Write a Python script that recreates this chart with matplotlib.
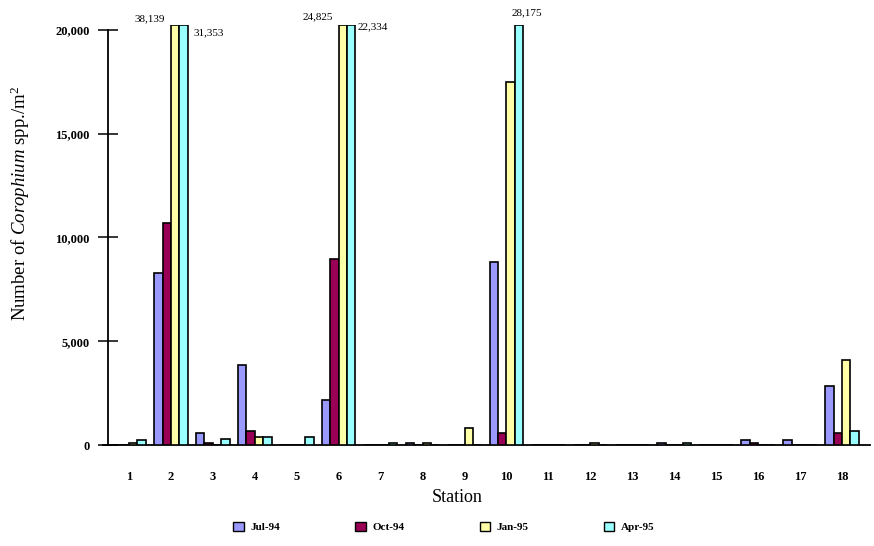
import numpy as np
import matplotlib
matplotlib.use("Agg")
import matplotlib.pyplot as plt
from matplotlib.patches import Patch

plt.rcParams['font.family'] = ['Liberation Serif', 'DejaVu Serif']
plt.rcParams['mathtext.fontset'] = 'custom'
plt.rcParams['mathtext.rm'] = 'Liberation Serif'
plt.rcParams['mathtext.it'] = 'Liberation Serif:italic'

# ---- data ----
stations = list(range(1, 19))
station_labels = [str(s) for s in stations]
series_names = ["Jul-94", "Oct-94", "Jan-95", "Apr-95"]
jul94 = [0, 8300, 560, 3840, 0, 2150, 0, 100, 0, 8800, 0, 0, 0, 100, 0, 240, 240, 2830]
oct94 = [0, 10700, 100, 660, 0, 8950, 0, 0, 0, 580, 0, 0, 0, 0, 0, 100, 0, 580]
jan95 = [80, 38139, 0, 370, 0, 24825, 0, 100, 820, 17480, 0, 100, 0, 0, 0, 0, 0, 4080]
apr95 = [220, 31353, 275, 370, 370, 22334, 80, 0, 0, 28175, 0, 0, 0, 100, 0, 0, 0, 660]
y_ticks = [0, 5000, 10000, 15000, 20000]
y_tick_labels = ["0", "5,000", "10,000", "15,000", "20,000"]
axis_cap = 20250

series = [jul94, oct94, jan95, apr95]
colors = ["#9999FF", "#990055", "#FFFFA8", "#99FFFF"]

W, H = 874, 546
fig = plt.figure(figsize=(W / 100, H / 100), dpi=100)

# axes placement in pixels
ax_left, ax_right, ax_bottom, ax_top = 103, 870, 445, 24.8
ax = fig.add_axes([ax_left / W, 1 - ax_bottom / H, (ax_right - ax_left) / W, (ax_bottom - ax_top) / H])

x = np.array(stations, dtype=float)
bw = 0.2
offsets = np.array([-1.5, -0.5, 0.5, 1.5]) * bw
for vals, col, name, off in zip(series, colors, series_names, offsets):
    v = np.minimum(np.array(vals, dtype=float), axis_cap)
    ax.bar(x + off, v, width=bw, color=col, edgecolor="black", linewidth=1.2, label=name, zorder=3)

# value labels for clipped bars
label_fs = 8
def lab(station_idx, s_idx, ha, dx, dy):
    val = series[s_idx][station_idx]
    xb = x[station_idx] + offsets[s_idx]
    ax.annotate(f"{val:,}", xy=(xb, axis_cap), xytext=(dx, dy), textcoords="offset pixels",
                ha=ha, va="center", fontsize=label_fs, annotation_clip=False)

lab(1, 2, "right", -10, 6)
lab(1, 3, "left", 10, -8)
lab(5, 2, "right", -10, 8)
lab(5, 3, "left", 6, -2)
lab(9, 3, "center", 8, 12)

ax.set_xlim(0.5 - 5 / 41.94, 18.5 + 7 / 41.94)
ax.set_ylim(0, axis_cap)
ax.spines['left'].set_position(('data', 0.5))
ax.spines['left'].set_bounds(0, 20000)
ax.spines['top'].set_visible(False)
ax.spines['right'].set_visible(False)
for s in ('left', 'bottom'):
    ax.spines[s].set_linewidth(1.3)

ax.set_yticks(y_ticks)
ax.set_yticklabels(y_tick_labels, fontsize=9, fontweight='bold')
ax.tick_params(axis='y', direction='inout', length=14.4, width=1.1, pad=6)
ax.set_xticks(x)
ax.set_xticklabels(station_labels, fontsize=9, fontweight='bold')
ax.tick_params(axis='x', length=0, pad=19)

fig.text(457 / W, 1 - 497 / H, "Station", ha='center', va='center', fontsize=13)
fig.text(20 / W, 1 - 203 / H, r"Number of $\it{Corophium}$ spp./m$^{2}$", rotation=90,
         ha='center', va='center', fontsize=13.5)

handles = [Patch(facecolor=c, edgecolor='black', linewidth=1.0) for c in colors]
fig.legend(handles, series_names, loc='center', bbox_to_anchor=(444 / W, 1 - 527 / H), ncol=4,
           frameon=False, prop={'weight': 'bold', 'size': 8}, handlelength=0.95, handleheight=0.95,
           handletextpad=0.6, columnspacing=6.75)

fig.savefig("out.png", dpi=100)
